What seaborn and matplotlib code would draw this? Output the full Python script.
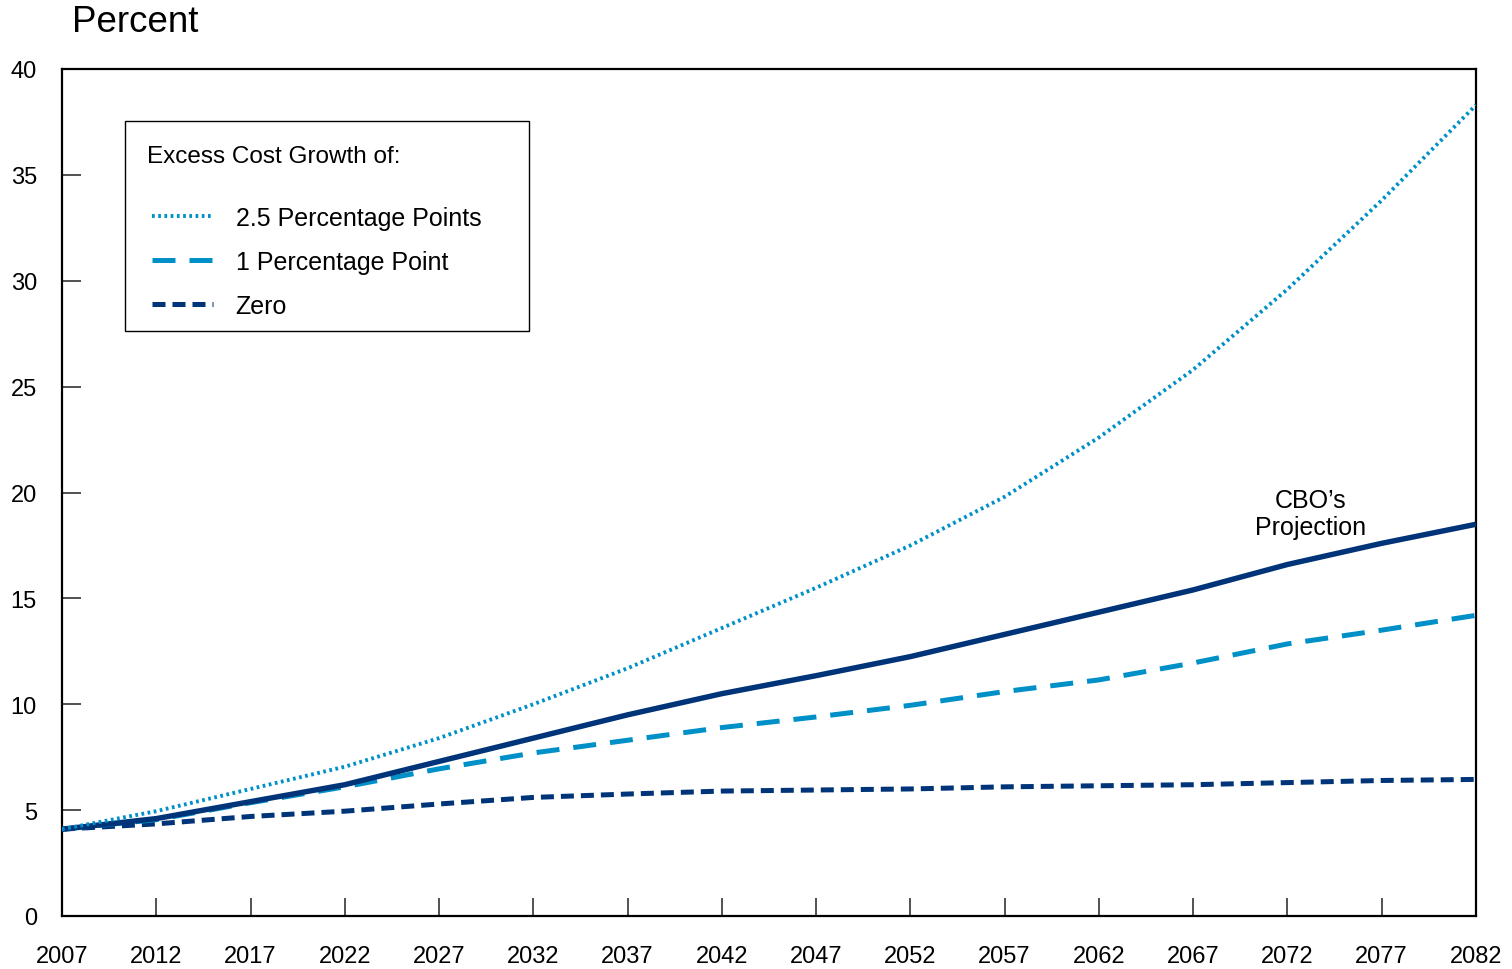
import matplotlib
matplotlib.use("Agg")
import matplotlib.pyplot as plt
import seaborn as sns
import pandas as pd
from matplotlib.lines import Line2D
from matplotlib.patches import Rectangle

years = [2007, 2012, 2017, 2022, 2027, 2032, 2037, 2042, 2047, 2052, 2057, 2062, 2067, 2072, 2077, 2082]
pp25 = [4.1, 4.95, 6.0, 7.05, 8.4, 10.0, 11.7, 13.6, 15.5, 17.5, 19.8, 22.6, 25.8, 29.6, 33.8, 38.3]
cbo = [4.1, 4.6, 5.4, 6.2, 7.3, 8.4, 9.5, 10.5, 11.35, 12.25, 13.3, 14.35, 15.4, 16.6, 17.6, 18.5]
pp1 = [4.1, 4.55, 5.35, 6.1, 6.95, 7.7, 8.3, 8.9, 9.4, 9.95, 10.6, 11.15, 11.95, 12.85, 13.5, 14.2]
zero = [4.1, 4.35, 4.7, 4.95, 5.29, 5.6, 5.76, 5.9, 5.95, 6.0, 6.1, 6.15, 6.2, 6.3, 6.4, 6.45]

x_ticks = list(range(2007, 2083, 5))
y_ticks = [0, 5, 10, 15, 20, 25, 30, 35, 40]

legend_title = "Excess Cost Growth of:"
label_25 = "2.5 Percentage Points"
label_1 = "1 Percentage Point"
label_0 = "Zero"
cbo_label = "CBO\u2019s\nProjection"

NAVY = "#003478"
LIGHT = "#0090C8"

DOT = (0, (0.7, 0.9))
DASH1 = (0, (4.6, 2.8))
DASH0 = (0, (2.6, 1.4))

sns.set_theme(style="white")
plt.rcParams['font.family'] = ['Liberation Sans', 'DejaVu Sans']
plt.rcParams['text.color'] = 'black'

W, H = 1512, 970
fig = plt.figure(figsize=(W / 100, H / 100), dpi=100)
ax = fig.add_axes([62 / W, 53 / H, 1414 / W, 847 / H])

df = pd.DataFrame({"year": years, "pp25": pp25, "cbo": cbo, "pp1": pp1, "zero": zero})

sns.lineplot(data=df, x="year", y="zero", ax=ax, color=NAVY, lw=3.6,
             linestyle=DASH0, zorder=3)
sns.lineplot(data=df, x="year", y="pp1", ax=ax, color=LIGHT, lw=3.6,
             linestyle=DASH1, zorder=4)
sns.lineplot(data=df, x="year", y="cbo", ax=ax, color=NAVY, lw=3.9,
             linestyle="-", zorder=5, solid_capstyle="butt")
sns.lineplot(data=df, x="year", y="pp25", ax=ax, color=LIGHT, lw=2.8,
             linestyle=DOT, zorder=6)

ax.set_xlim(2007, 2082)
ax.set_ylim(0, 40)
ax.set_xticks(x_ticks)
ax.set_yticks(y_ticks)
ax.set_xlabel("")
ax.set_ylabel("")
ax.tick_params(axis="x", direction="in", length=13, width=1.2, color="#333333",
               bottom=True, top=False, labelsize=17, pad=21, labelcolor="black")
ax.tick_params(axis="y", direction="in", length=14, width=1.2, color="#333333",
               left=True, right=False, labelsize=17, pad=18, labelcolor="black")
for s in ax.spines.values():
    s.set_visible(True)
    s.set_color("black")
    s.set_linewidth(1.6)
ax.grid(False)

ax.text(2073.2, 19.0, cbo_label, ha="center", va="center", fontsize=18,
        multialignment="center", color="black", linespacing=1.15)

fig.text(72 / W, 1 - 22 / H, "Percent", ha="left", va="center", fontsize=26.5, color="black")

# legend frame and title
fig.patches.append(Rectangle((125 / W, 1 - 332 / H), (529 - 125) / W, (332 - 122) / H,
                             transform=fig.transFigure, fill=True, facecolor="white",
                             edgecolor="black", lw=1.0, zorder=10))
fig.text(147 / W, 1 - 157 / H, legend_title, ha="left", va="center", fontsize=17.5,
         color="black", zorder=11)

handles = [
    Line2D([0], [0], color=LIGHT, lw=2.8, linestyle=DOT),
    Line2D([0], [0], color=LIGHT, lw=3.6, linestyle=DASH1),
    Line2D([0], [0], color=NAVY, lw=3.6, linestyle=DASH0),
]
leg = fig.legend(handles, [label_25, label_1, label_0],
                 loc="upper left", bbox_to_anchor=(152 / W, 1 - 207 / H),
                 bbox_transform=fig.transFigure,
                 frameon=False, fontsize=18, labelcolor="black",
                 handlelength=2.45, handletextpad=0.9,
                 labelspacing=0.8, borderpad=0, borderaxespad=0)
leg.set_zorder(12)

fig.savefig("out.png", dpi=100, facecolor="white")
